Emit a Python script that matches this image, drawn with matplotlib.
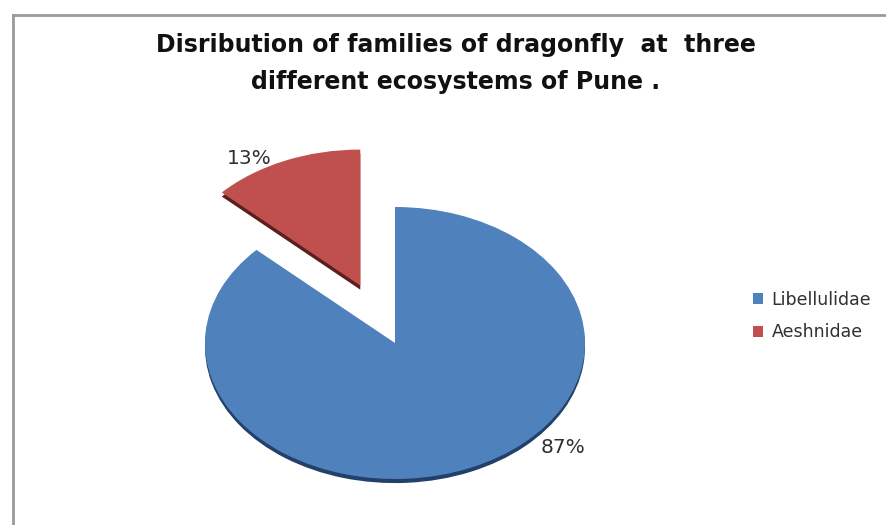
import matplotlib
matplotlib.use("Agg")
import matplotlib.pyplot as plt
from matplotlib.patches import Patch
from matplotlib.lines import Line2D
import numpy as np

families = ["Libellulidae", "Aeshnidae"]
shares = [87, 13]
colors = ["#4F81BD", "#C0504D"]
side_colors = ["#22406A", "#5A1F1E"]
explode = [0, 0.46]

title = "Disribution of families of dragonfly  at  three\ndifferent ecosystems of Pune ."

W, H = 886, 525
fig = plt.figure(figsize=(W / 100, H / 100), dpi=100)
fig.patch.set_facecolor("white")

# chart frame (only left and top edges are visible in the source)
fig.add_artist(Line2D([13 / W, 13 / W], [0, 1 - 15 / H], color="#9a9a9a", lw=2))
fig.add_artist(Line2D([13 / W, 1], [1 - 15 / H, 1 - 15 / H], color="#9a9a9a", lw=2))

fig.text(456 / W, 1 - 63.5 / H, title, ha="center", va="center", fontsize=17,
         fontweight="bold", family="DejaVu Sans", color="#111111", linespacing=1.72)

ax = fig.add_axes([0, 0, 1, 1])
# ellipse: rx = 190 px, ry = 136 px, centre at (395, 343) px from top-left
rx, ry, cx, cy = 190, 136, 395, 343

# darker copy shifted down gives the 3D side
ax.pie(shares, colors=side_colors, explode=explode, startangle=90,
       counterclock=False, center=(0, -0.03), wedgeprops=dict(linewidth=0))
wedges, _, pcts = ax.pie(shares, colors=colors, explode=explode, startangle=90,
                         counterclock=False, autopct="%d%%", pctdistance=1.1,
                         wedgeprops=dict(linewidth=0),
                         textprops=dict(fontsize=14.5, color="#303030", family="DejaVu Sans"))

# label placement around each wedge's own centre
label_angle = [-41, 122]
label_r = [1.17, 1.10]
for w, t, a, r in zip(wedges, pcts, label_angle, label_r):
    ox, oy = w.center
    t.set_position((ox + r * np.cos(np.deg2rad(a)), oy + r * np.sin(np.deg2rad(a))))
    t.set_ha("center")
    t.set_va("center")

ax.set_aspect("auto")
ax.set_xlim(-cx / rx, (W - cx) / rx)
ax.set_ylim(-(H - cy) / ry, cy / ry)
ax.axis("off")

handles = [Patch(facecolor=c, edgecolor="none") for c in colors]
fig.legend(handles, families, loc="center left", bbox_to_anchor=(737 / W, 1 - 316 / H),
           frameon=False, prop=dict(family="DejaVu Sans", size=12.5),
           labelcolor="#303030",
           handlelength=0.6, handleheight=0.6, handletextpad=0.5, labelspacing=0.85)

fig.savefig("out.png", dpi=100, facecolor="white")
